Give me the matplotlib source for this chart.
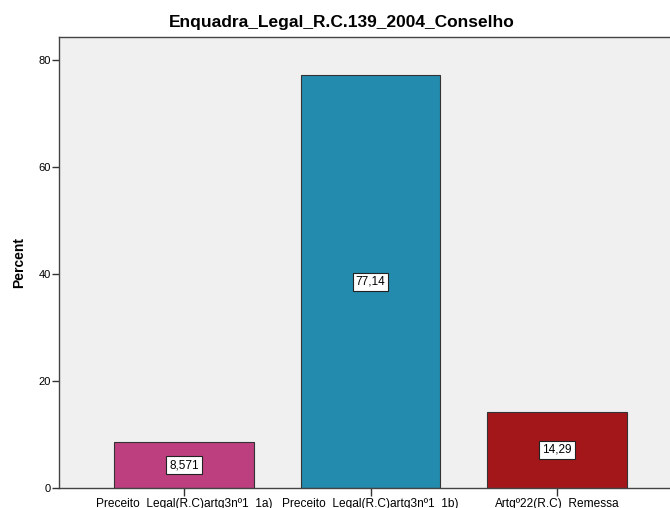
import matplotlib
matplotlib.use("Agg")
import matplotlib.pyplot as plt

categories = ["Preceito_Legal(R.C)artg3nº1_1a)",
              "Preceito_Legal(R.C)artg3nº1_1b)",
              "Artgº22(R.C)_Remessa"]
percent = [8.571, 77.14, 14.29]
value_labels = ["8,571", "77,14", "14,29"]
colors = ["#BE3F80", "#238BAE", "#A3171B"]

plt.rcParams['font.family'] = ['Liberation Sans', 'DejaVu Sans']

fig = plt.figure(figsize=(6.7, 5.08), dpi=100)
ax = fig.add_axes([59/670, 20/508, 623/670, 451/508])
ax.set_facecolor("#F0F0F0")

x = range(len(categories))
ax.bar(x, percent, width=0.75, color=colors, edgecolor="#333333", linewidth=0.8, zorder=2)
for i, v in enumerate(percent):
    ax.text(i, v / 2, value_labels[i], ha="center", va="center", fontsize=8.5, zorder=3,
            bbox=dict(boxstyle="square,pad=0.25", facecolor="white", edgecolor="#222222", linewidth=0.8))

ax.set_xlim(-0.67, 2.67)
ax.set_ylim(0, 84.3)
ax.set_yticks([0, 20, 40, 60, 80])
ax.set_xticks(list(x))
ax.set_xticklabels(categories, fontsize=8.6)
ax.tick_params(axis="y", labelsize=8, length=5, width=1, color="#333333", pad=1)
ax.tick_params(axis="x", length=6, width=1, color="#333333", pad=1)
for s in ax.spines.values():
    s.set_color("#444444")
    s.set_linewidth(1)

ax.set_ylabel("Percent", fontsize=10, fontweight="bold", labelpad=9)
fig.text(342/670, 1 - 22/508, "Enquadra_Legal_R.C.139_2004_Conselho",
         fontsize=12.5, fontweight="bold", ha="center", va="center")

fig.savefig("out.png", dpi=100)
